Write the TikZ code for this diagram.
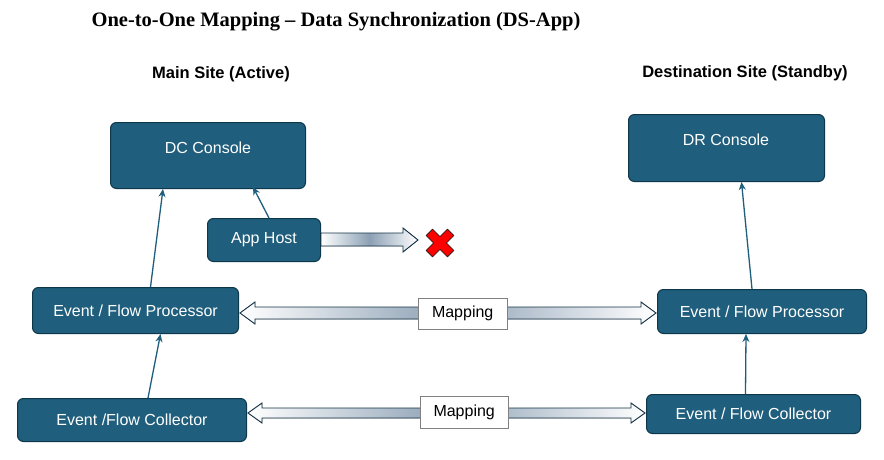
\documentclass[tikz,border=0pt]{standalone}
\usetikzlibrary{arrows.meta}
\usepackage{fontspec}
\setmainfont{Liberation Sans}
\newfontfamily\titlefont{Liberation Serif}
\begin{document}
\begin{tikzpicture}[x=1pt,y=-1pt,
  box/.style={draw={rgb,255:red,15;green,55;blue,75}, line width=1pt, fill={rgb,255:red,31;green,94;blue,124}, rounded corners=6pt, text=white, font=\fontsize{16}{19}\selectfont, inner sep=0pt},
  mapbox/.style={draw=black!50, fill=white, font=\fontsize{16}{19}\selectfont, inner sep=0pt},
  conn/.style={draw={rgb,255:red,31;green,94;blue,124}, line width=1.3pt, -{Stealth[length=8pt,width=7pt]}},
  barrow/.style={draw={rgb,255:red,20;green,50;blue,70}, line width=0.9pt, left color=white, right color=white, middle color={rgb,255:red,140;green,160;blue,180}}]
\useasboundingbox (0,0) rectangle (884,460);
\fill[white] (0,0) rectangle (884,460);
\node[font=\titlefont\bfseries\fontsize{20.5}{23}\selectfont] (title) at (336,22) {One-to-One Mapping – Data Synchronization (DS-App)};
\node[font=\bfseries\fontsize{16.5}{19}\selectfont] (hmain) at (221,74) {Main Site (Active)};
\node[font=\bfseries\fontsize{16.5}{19}\selectfont] (hdest) at (745,73) {Destination Site (Standby)};

\node[box, minimum width=195pt, minimum height=66pt, anchor=north west] (dc) at (110,122) {};
\node[text=white, font=\fontsize{16}{19}\selectfont] (dct) at (208,148) {DC Console};
\node[box, minimum width=196pt, minimum height=67pt, anchor=north west] (dr) at (628,114) {};
\node[text=white, font=\fontsize{16}{19}\selectfont] (drt) at (726,140) {DR Console};
\node[box, minimum width=113pt, minimum height=43pt, anchor=north west] (app) at (207,218) {App Host};
\node[box, minimum width=206pt, minimum height=46pt, anchor=north west] (lp) at (32,287) {Event / Flow Processor};
\node[box, minimum width=209pt, minimum height=44pt, anchor=north west] (rp) at (657,289) {Event / Flow Processor};
\node[box, minimum width=229pt, minimum height=43pt, anchor=north west] (lc) at (17,398) {Event /Flow Collector};
\node[box, minimum width=214pt, minimum height=39pt, anchor=north west] (rc) at (646,394) {Event / Flow Collector};

% single block arrow from App Host
\filldraw[barrow] (321,233) -- (403,233) -- (403,228) -- (418,240) -- (403,252) -- (403,246) -- (321,246) -- cycle;
% red cross
\begin{scope}[shift={(440,243)}, rotate=45]
\filldraw[fill=red, draw={rgb,255:red,60;green,20;blue,20}, line width=0.8pt, line join=round]
 (-4.5,-15) -- (4.5,-15) -- (4.5,-4.5) -- (15,-4.5) -- (15,4.5) -- (4.5,4.5) -- (4.5,15) -- (-4.5,15) -- (-4.5,4.5) -- (-15,4.5) -- (-15,-4.5) -- (-4.5,-4.5) -- cycle;
\end{scope}
% double block arrows
\filldraw[barrow] (240,313) -- (255,302) -- (255,307) -- (641,307) -- (641,302) -- (656,313) -- (641,324) -- (641,319) -- (255,319) -- (255,324) -- cycle;
\filldraw[barrow] (248,413) -- (262,403) -- (262,408) -- (631,408) -- (631,403) -- (645,413) -- (631,423) -- (631,418) -- (262,418) -- (262,423) -- cycle;
\node[mapbox, minimum width=89pt, minimum height=31pt, anchor=north west] (m1) at (418,298) {Mapping};
\node[mapbox, minimum width=88pt, minimum height=32pt, anchor=north west] (m2) at (420,396) {Mapping};

\draw[conn] ([xshift=15pt]lp.north) -- ([xshift=-45pt]dc.south);
\draw[conn] ([xshift=5pt]app.north) -- ([xshift=45pt,yshift=2pt]dc.south);
\draw[conn] ([xshift=16pt]lc.north) -- ([xshift=25pt]lp.south);
\draw[conn] ([xshift=-8pt]rc.north) -- ([xshift=-16pt]rp.south);
\draw[conn] ([xshift=-10pt]rp.north) -- ([xshift=15pt]dr.south);
\end{tikzpicture}
\end{document}
